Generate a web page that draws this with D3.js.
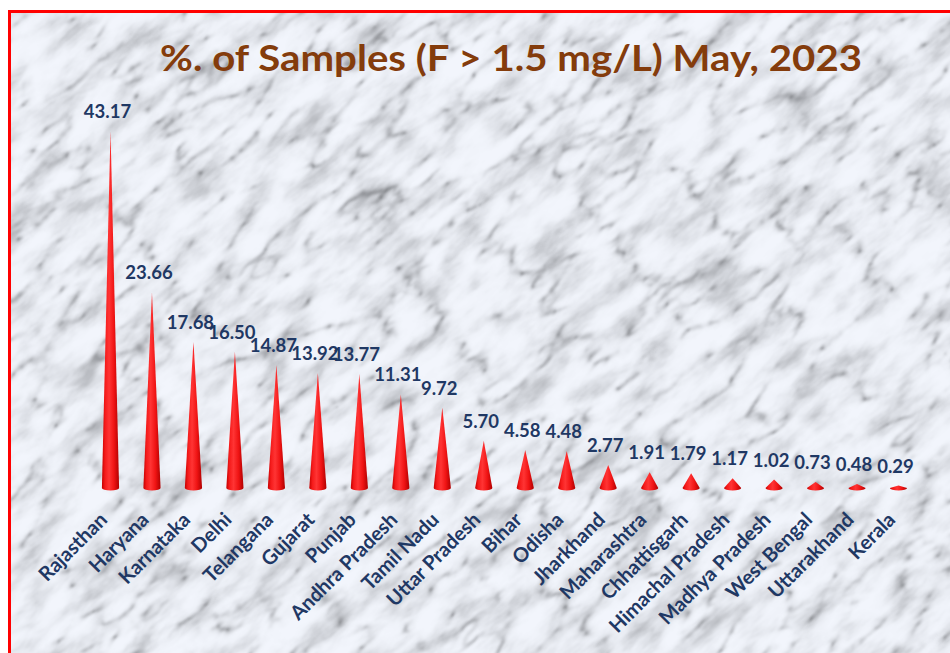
<!DOCTYPE html>
<html>
<head>
<meta charset="utf-8">
<script src="https://cdn.jsdelivr.net/npm/d3@7/dist/d3.min.js"></script>
<style>
  html, body { margin: 0; padding: 0; background: #ffffff; }
  svg { display: block; }
</style>
</head>
<body>
<div id="chart"></div>
<script>
const states = ["Rajasthan", "Haryana", "Karnataka", "Delhi", "Telangana", "Gujarat", "Punjab",
  "Andhra Pradesh", "Tamil Nadu", "Uttar Pradesh", "Bihar", "Odisha", "Jharkhand", "Maharashtra",
  "Chhattisgarh", "Himachal Pradesh", "Madhya Pradesh", "West Bengal", "Uttarakhand", "Kerala"];
const percentages = [43.17, 23.66, 17.68, 16.50, 14.87, 13.92, 13.77, 11.31, 9.72, 5.70, 4.58, 4.48,
  2.77, 1.91, 1.79, 1.17, 1.02, 0.73, 0.48, 0.29];
const titleText = "%. of Samples (F > 1.5 mg/L) May, 2023";

const W = 950, H = 653;
const svg = d3.select("#chart").append("svg").attr("width", W).attr("height", H);
const defs = svg.append("defs");

// marble texture: thin turbulence veins multiplied by soft grey clouds
const f = defs.append("filter").attr("id", "marble")
  .attr("filterUnits", "userSpaceOnUse").attr("color-interpolation-filters", "sRGB")
  .attr("x", -600).attr("y", -600).attr("width", 2200).attr("height", 2000);
f.append("feTurbulence").attr("type", "turbulence")
  .attr("baseFrequency", "0.011 0.03").attr("numOctaves", 4).attr("seed", 3).attr("result", "t1");
f.append("feColorMatrix").attr("in", "t1").attr("type", "matrix")
  .attr("values", "1 0 0 0 0  1 0 0 0 0  1 0 0 0 0  0 0 0 0 1").attr("result", "t1g");
const c1 = f.append("feComponentTransfer").attr("in", "t1g").attr("result", "veins0");
const tv1 = "0.56 0.72 0.85 0.92 0.96 0.97 0.98 0.98 0.98 0.98 0.98 0.98 0.98 0.98 0.98 0.98 0.98 0.98 0.98 0.98";
["feFuncR", "feFuncG", "feFuncB"].forEach(n => c1.append(n).attr("type", "table").attr("tableValues", tv1));
f.append("feGaussianBlur").attr("in", "veins0").attr("stdDeviation", 0.8).attr("result", "veins");
f.append("feTurbulence").attr("type", "fractalNoise")
  .attr("baseFrequency", "0.018 0.04").attr("numOctaves", 4).attr("seed", 11).attr("result", "t2");
f.append("feColorMatrix").attr("in", "t2").attr("type", "matrix")
  .attr("values", "1 0 0 0 0  1 0 0 0 0  1 0 0 0 0  0 0 0 0 1").attr("result", "t2g");
const c2 = f.append("feComponentTransfer").attr("in", "t2g").attr("result", "cloud");
const tv2 = "0.76 0.78 0.84 0.91 0.96 0.99 1 1 1 1";
["feFuncR", "feFuncG", "feFuncB"].forEach(n => c2.append(n).attr("type", "table").attr("tableValues", tv2));
f.append("feBlend").attr("in", "veins").attr("in2", "cloud").attr("mode", "multiply").attr("result", "m");
f.append("feColorMatrix").attr("in", "m").attr("type", "matrix")
  .attr("values", "0.97 0 0 0 0  0 0.98 0 0 0.003  0 0 1 0 0.01  0 0 0 0 1");

const clip = defs.append("clipPath").attr("id", "inner");
clip.append("rect").attr("x", 10).attr("y", 12).attr("width", W).attr("height", H);

const bg = svg.append("g").attr("clip-path", "url(#inner)");
bg.append("rect").attr("x", 0).attr("y", 0).attr("width", W).attr("height", H).attr("fill", "#e2e3e5");
bg.append("g").attr("transform", "rotate(-40 475 326)")
  .append("rect").attr("x", -500).attr("y", -500).attr("width", 2000).attr("height", 1700)
  .attr("fill", "#fff").attr("filter", "url(#marble)");

// border
svg.append("rect").attr("x", 9.5).attr("y", 11.5).attr("width", W + 10).attr("height", H + 10)
  .attr("fill", "none").attr("stroke", "#ff0000").attr("stroke-width", 3);

// title
svg.append("text").attr("x", 511).attr("y", 71).attr("text-anchor", "middle")
  .attr("font-family", "Lato, 'Open Sans', sans-serif").attr("font-weight", 700)
  .attr("font-size", 37).attr("fill", "#843c0c")
  .attr("textLength", 702).attr("lengthAdjust", "spacingAndGlyphs")
  .text(titleText);

// cone gradient
const grad = defs.append("linearGradient").attr("id", "coneGrad")
  .attr("x1", "0%").attr("x2", "100%").attr("y1", "0%").attr("y2", "0%");
[["0%", "#c40000"], ["18%", "#f51a1a"], ["42%", "#ff3434"], ["70%", "#f01414"], ["100%", "#b00000"]]
  .forEach(([o, c]) => grad.append("stop").attr("offset", o).attr("stop-color", c));

const x = d3.scalePoint().domain(states).range([110.5, 898.5]);
const y = d3.scaleLinear().domain([0, 50]).range([488, 488 - 50 * 8.27]);

const baseHalf = 8.6, ry = 2.6;
const g = svg.append("g");
g.selectAll("path.cone").data(states).join("path").attr("class", "cone")
  .attr("d", (s, i) => {
    const cx = x(s), y0 = y(0), yt = y(percentages[i]);
    return `M${cx - baseHalf},${y0} L${cx},${yt} L${cx + baseHalf},${y0} A${baseHalf},${ry} 0 0 1 ${cx - baseHalf},${y0} Z`;
  })
  .attr("fill", "url(#coneGrad)");

// value labels
g.selectAll("text.val").data(states).join("text").attr("class", "val")
  .attr("x", s => x(s) - 3)
  .attr("y", (s, i) => y(percentages[i]) - 13)
  .attr("text-anchor", "middle")
  .attr("font-family", "Lato, 'Open Sans', sans-serif").attr("font-weight", 700)
  .attr("font-size", 18.5).attr("fill", "#1f3864")
  .text((s, i) => percentages[i].toFixed(2));

// category labels
g.selectAll("text.cat").data(states).join("text").attr("class", "cat")
  .attr("transform", s => `translate(${x(s) - 2},${521}) rotate(-45)`)
  .attr("text-anchor", "end")
  .attr("font-family", "Lato, 'Open Sans', sans-serif").attr("font-weight", 700)
  .attr("font-size", 20).attr("fill", "#1f3864")
  .text(s => s);
</script>
</body>
</html>
